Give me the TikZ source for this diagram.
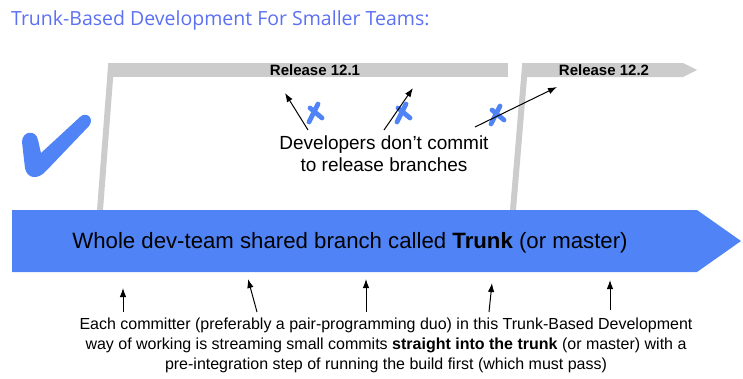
\documentclass[tikz,border=0pt]{standalone}
\usepackage{fontspec}
\setmainfont{Liberation Sans}
\newfontfamily\titlefont{Open Sans}
\usetikzlibrary{arrows.meta,positioning}
\definecolor{trunkblue}{RGB}{80,132,246}
\definecolor{titleblue}{RGB}{92,112,242}
\definecolor{branchgray}{RGB}{204,204,204}

\begin{document}
\begin{tikzpicture}[
    x=1pt, y=-1pt,
    title/.style={anchor=base west, inner sep=0, text=titleblue, font=\titlefont\fontsize{19.5}{23}\selectfont},
    branch/.style={fill=branchgray, draw=none},
    stem/.style={draw=branchgray, line width=6pt},
    release/.style={inner sep=0, font=\fontsize{15}{17}\selectfont\bfseries},
    cross/.style={draw=trunkblue, line width=4.8pt, line cap=round},
    note/.style={inner sep=0, align=center},
    line/.style={draw, -{Latex[length=9pt,width=6.5pt]}, line width=1pt}
]
    \useasboundingbox (0,0) rectangle (743,378);

    % Branches
    \path [branch] (108,63) rectangle (508,77);
    \path [branch] (522,63) -- (683,63) -- (697,70) -- (683,77) -- (522,77) -- cycle;
    \path [stem] (111,66) -- (100,210);
    \path [stem] (525,66) -- (513,210);

    % Trunk
    \path [fill=trunkblue] (12,210) -- (697,210) -- (741,241) -- (697,272) -- (12,272) -- cycle;

    % Tick
    \path [fill=trunkblue] (22,142) .. controls (22,131) and (36,129) .. (38,140)
        -- (41,153) -- (80,117) .. controls (86,111) and (95,118) .. (89,126)
        -- (46,171) .. controls (38,180) and (27,179) .. (25,168) -- cycle;

    % Nodes
    \node [title] (title) at (11,25) {Trunk-Based Development For Smaller Teams:};
    \node [release] (rel1) at (315,70) {Release 12.1};
    \node [release] (rel2) at (604,70) {Release 12.2};
    \node [note, anchor=base, font=\fontsize{22.2}{26}\selectfont] (trunk) at (350,248) {Whole dev-team shared branch called \textbf{Trunk} (or master)};
    \node [note, font=\fontsize{19}{22}\selectfont] (devs) at (384,154) {Developers don’t commit\\to release branches};
    \node [note, font=\fontsize{16}{20}\selectfont] (each) at (386,345) {Each committer (preferably a pair-programming duo) in this Trunk-Based Development\\way of working is streaming small commits \textbf{straight into the trunk} (or master) with a\\pre-integration step of running the build first (which must pass)};

    % Crosses
    \coordinate (x1) at (315,113);
    \coordinate (x2) at (403,113);
    \coordinate (x3) at (497,115);
    \path [cross] (x1) ++(-6,9) -- ++(9,-18) (x1) ++(-5,-5) -- ++(12,10);
    \path [cross] (x2) ++(-6,9) -- ++(9,-18) (x2) ++(-5,-5) -- ++(12,10);
    \path [cross] (x3) ++(-6,9) -- ++(9,-18) (x3) ++(-5,-5) -- ++(12,10);

    % Arrow ends
    \coordinate (d1) at (308,130);
    \coordinate (d2) at (384,130);
    \coordinate (d3) at (475,127);
    \coordinate (r1) at (285,93);
    \coordinate (r2) at (413,88);
    \coordinate (r3) at (557,87);
    \coordinate (c1) at (123,312);
    \coordinate (c2) at (257,312);
    \coordinate (c3) at (366,312);
    \coordinate (c4) at (489,312);
    \coordinate (c5) at (610,310);
    \coordinate (t1) at (123,288);
    \coordinate (t2) at (248,279);
    \coordinate (t3) at (366,279);
    \coordinate (t4) at (492,283);
    \coordinate (t5) at (610,280);

    % Paths
    \path [line] (d1) -- (r1);
    \path [line] (d2) -- (r2);
    \path [line] (d3) -- (r3);
    \path [line] (c1) -- (t1);
    \path [line] (c2) -- (t2);
    \path [line] (c3) -- (t3);
    \path [line] (c4) -- (t4);
    \path [line] (c5) -- (t5);

\end{tikzpicture}
\end{document}
